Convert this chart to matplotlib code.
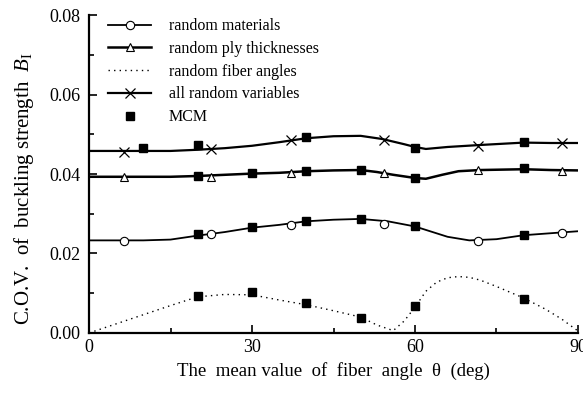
import numpy as np
import matplotlib.pyplot as plt
from matplotlib.lines import Line2D
from matplotlib.ticker import MultipleLocator

plt.rcParams['font.family'] = 'Liberation Serif'
plt.rcParams['mathtext.fontset'] = 'custom'
plt.rcParams['mathtext.rm'] = 'Liberation Serif'
plt.rcParams['mathtext.it'] = 'Liberation Serif:italic'

# curves (deg, C.O.V.)
mat_x = [0, 5, 10, 15, 20, 25, 30, 35, 40, 45, 50, 55, 60, 63, 66, 70, 75, 80, 85, 90]
mat_y = [0.0233, 0.0233, 0.0233, 0.0235, 0.0245, 0.0254, 0.0265, 0.0272, 0.0281, 0.0285,
         0.0287, 0.0281, 0.0268, 0.0255, 0.0242, 0.0233, 0.0236, 0.0246, 0.0251, 0.0256]

ply_x = [0, 5, 10, 15, 20, 25, 30, 35, 40, 45, 50, 53, 56, 60, 62, 65, 68, 72, 76, 80, 85, 90]
ply_y = [0.0393, 0.0393, 0.0393, 0.0393, 0.0395, 0.0398, 0.0401, 0.0403, 0.0407, 0.0409, 0.0410,
         0.0405, 0.0398, 0.0390, 0.0388, 0.0398, 0.0407, 0.0410, 0.0411, 0.0412, 0.0410, 0.0409]

ang_x = [0, 5, 10, 15, 20, 25, 30, 35, 40, 45, 50, 53, 56, 58, 60, 62, 64, 66, 68, 70, 72, 75,
         80, 84, 87, 90]
ang_y = [0.0, 0.0023, 0.0046, 0.0069, 0.0091, 0.0097, 0.0096, 0.0083, 0.0071, 0.0056, 0.0040,
         0.0020, 0.0006, 0.0030, 0.0065, 0.0105, 0.0128, 0.0139, 0.0142, 0.0140, 0.0133, 0.0117,
         0.0088, 0.0060, 0.0035, 0.0005]

all_x = [0, 5, 10, 15, 20, 25, 30, 35, 40, 45, 50, 54, 58, 60, 62, 66, 72, 76, 80, 85, 90]
all_y = [0.0458, 0.0458, 0.0458, 0.0458, 0.0461, 0.0465, 0.0471, 0.0480, 0.0490, 0.0495, 0.0496,
         0.0488, 0.0475, 0.0468, 0.0463, 0.0468, 0.0473, 0.0476, 0.0479, 0.0478, 0.0478]

# symbol positions on the curves
sym_x = [6.4, 22.4, 37.2, 54.3, 71.6, 87.0]
mat_sym = [0.0232, 0.0248, 0.0272, 0.0274, 0.0231, 0.0251]
ply_sym = [0.0393, 0.0392, 0.0402, 0.0402, 0.0410, 0.0408]
all_sym = [0.0456, 0.0463, 0.0486, 0.0486, 0.0471, 0.0477]

# Monte Carlo results
mcm_mat_x = [20, 30, 40, 50, 60, 80]
mcm_mat_y = [0.0249, 0.0267, 0.0282, 0.0287, 0.0269, 0.0247]
mcm_ply_x = [20, 30, 40, 50, 60, 80]
mcm_ply_y = [0.0396, 0.0402, 0.0408, 0.0410, 0.0389, 0.0414]
mcm_ang_x = [20, 30, 40, 50, 60, 80]
mcm_ang_y = [0.0093, 0.0102, 0.0075, 0.0037, 0.0068, 0.0086]
mcm_all_x = [10, 20, 40, 60, 80]
mcm_all_y = [0.0466, 0.0474, 0.0494, 0.0466, 0.0481]

fig = plt.figure(figsize=(5.83, 3.93), dpi=100)
ax = fig.add_axes([0.1527, 0.1527, 0.8387, 0.8091])

ax.plot(mat_x, mat_y, 'k-', lw=1.3)
ax.plot(sym_x, mat_sym, 'o', ms=6, mfc='white', mec='k', mew=0.8)
ax.plot(ply_x, ply_y, 'k-', lw=1.8)
ax.plot(sym_x, ply_sym, '^', ms=5.5, mfc='white', mec='k', mew=0.8)
ax.plot(ang_x, ang_y, 'k', ls=(0, (1, 3)), lw=1.0)
ax.plot(all_x, all_y, 'k-', lw=1.6)
ax.plot(sym_x, all_sym, 'x', ms=7, mec='k', mew=0.9)
for mx, my in [(mcm_mat_x, mcm_mat_y), (mcm_ply_x, mcm_ply_y),
               (mcm_ang_x, mcm_ang_y), (mcm_all_x, mcm_all_y)]:
    ax.plot(mx, my, 's', ms=6, color='k')

ax.set_xlim(0, 90)
ax.set_ylim(0, 0.08)
ax.set_xticks([0, 30, 60, 90])
ax.set_yticks([0.0, 0.02, 0.04, 0.06, 0.08])
ax.set_yticklabels(['0.00', '0.02', '0.04', '0.06', '0.08'])
ax.xaxis.set_minor_locator(MultipleLocator(15))
ax.yaxis.set_minor_locator(MultipleLocator(0.01))
ax.tick_params(which='both', direction='in', labelsize=13, width=1.2)
ax.tick_params(which='major', length=6)
ax.tick_params(which='minor', length=3.5)
ax.tick_params(axis='x', pad=4)
ax.tick_params(axis='y', pad=6)
ax.spines['top'].set_visible(False)
ax.spines['right'].set_visible(False)
ax.spines['left'].set_linewidth(1.6)
ax.spines['bottom'].set_linewidth(1.6)

ax.set_xlabel('The  mean value  of  fiber  angle  θ  (deg)', fontsize=13.5, labelpad=5)
ax.set_ylabel('C.O.V.  of  buckling strength  $B_{\\mathrm{I}}$', fontsize=15)
ax.yaxis.set_label_coords(-0.108, 0.455)

handles = [
    Line2D([], [], color='k', lw=1.3, marker='o', ms=6, mfc='white', mew=0.8),
    Line2D([], [], color='k', lw=1.8, marker='^', ms=5.5, mfc='white', mew=0.8),
    Line2D([], [], color='k', lw=1.0, ls=(0, (1, 3))),
    Line2D([], [], color='k', lw=1.6, marker='x', ms=7, mew=0.9),
    Line2D([], [], color='k', ls='none', marker='s', ms=6),
]
labels = ['random materials', 'random ply thicknesses', 'random fiber angles',
          'all random variables', 'MCM']
ax.legend(handles, labels, loc='upper left', bbox_to_anchor=(0.01, 1.035), frameon=False,
          numpoints=1, handlelength=2.7, handletextpad=1.1, labelspacing=0.42, fontsize=11.5)

fig.savefig('out.png', dpi=100)
